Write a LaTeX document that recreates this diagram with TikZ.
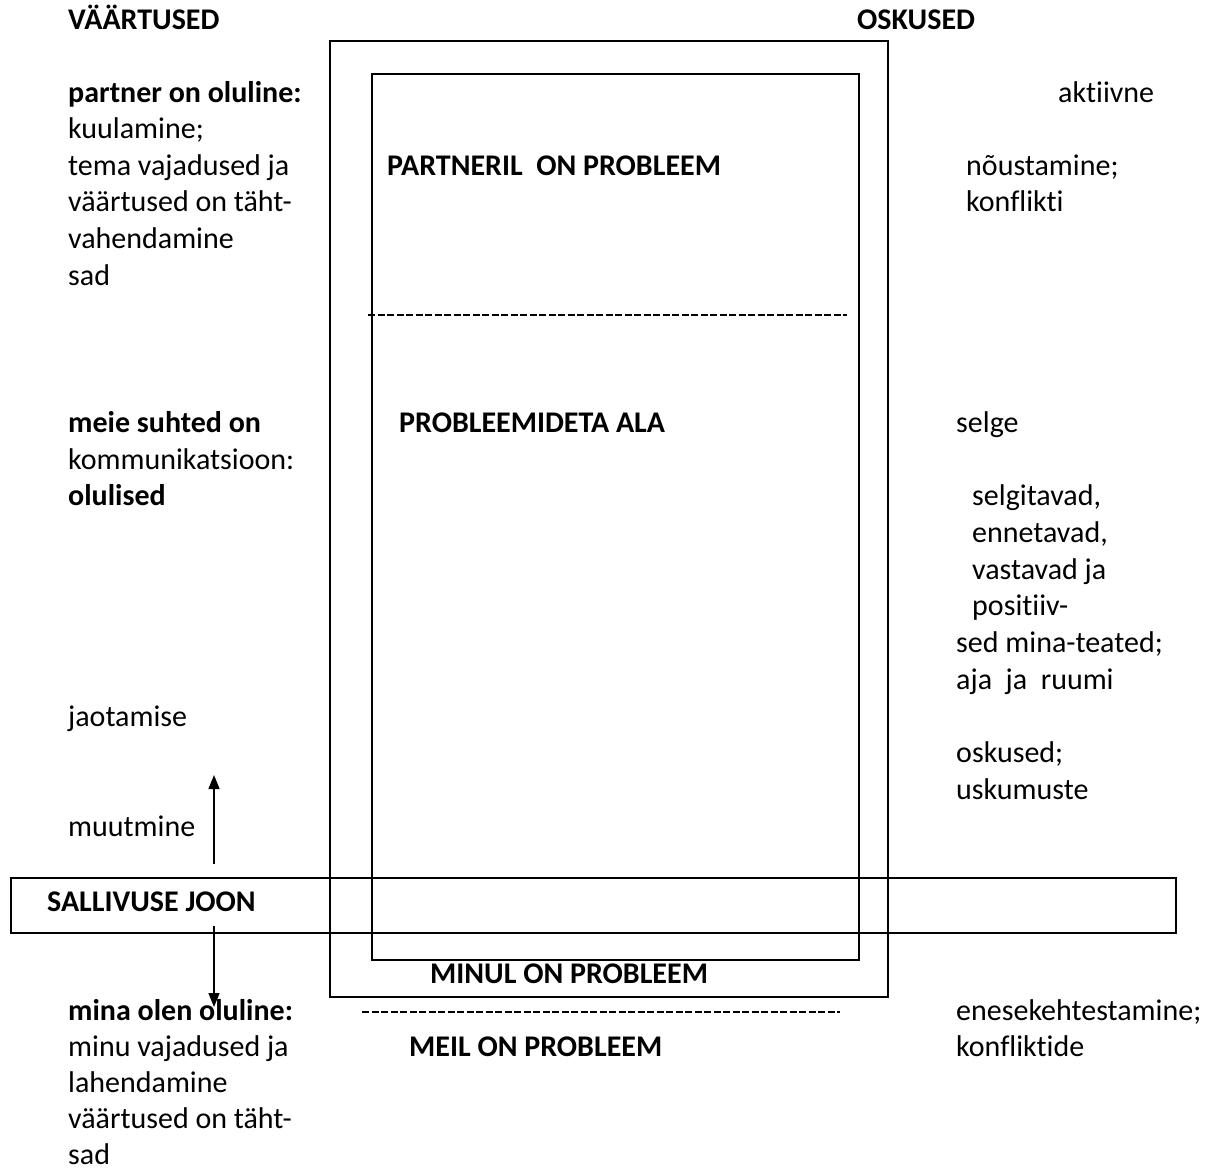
\documentclass[tikz,border=0pt]{standalone}
\usepackage{fontspec}
\setmainfont{Carlito}[Ligatures=NoCommon]
\usetikzlibrary{arrows.meta}
\begin{document}
\begin{tikzpicture}[x=1pt,y=-1pt,
  txt/.style={anchor=base west,inner sep=0pt,font=\fontsize{30}{36}\selectfont},
  btxt/.style={txt,font=\fontsize{30}{36}\selectfont\bfseries},
  frame/.style={draw,line width=1.3pt},
  dashline/.style={line width=1.3pt,dash pattern=on 7pt off 2.5pt},
  arr/.style={line width=1.3pt,-{Triangle[length=14pt,width=11pt]}}]
\useasboundingbox (0,0) rectangle (1209,1170);
% frames
\draw[frame] (330,41) rectangle (888,997);
\draw[frame] (372,74) rectangle (859,960);
\draw[frame] (11,878) rectangle (1176,933);
\coordinate (d1a) at (368,315); \coordinate (d1b) at (847,315);
\coordinate (d2a) at (362,1012); \coordinate (d2b) at (840,1012);
\draw[dashline] (d1a) -- (d1b);
\draw[dashline] (d2a) -- (d2b);
% arrows
\coordinate (upS) at (214,864); \coordinate (upE) at (214,775);
\coordinate (dnS) at (214,926); \coordinate (dnE) at (214,1007);
\draw[arr] (upS) -- (upE);
\draw[arr] (dnS) -- (dnE);
% left column
\node[btxt] (l0) at (68,29) {VÄÄRTUSED};
\node[btxt] (l1) at (68,102) {partner on oluline:};
\node[txt] (l2) at (68,138) {kuulamine;};
\node[txt] (l3) at (68,175) {tema vajadused ja};
\node[txt] (l4) at (68,211) {väärtused on täht-};
\node[txt] (l5) at (68,248) {vahendamine};
\node[txt] (l6) at (68,285) {sad};
\node[btxt] (l7) at (68,432) {meie suhted on};
\node[txt] (l8) at (68,469) {kommunikatsioon:};
\node[btxt] (l9) at (68,505) {olulised};
\node[txt] (l10) at (68,726) {jaotamise};
\node[txt] (l11) at (68,836) {muutmine};
\node[btxt] (sj) at (47,911) {SALLIVUSE JOON};
\node[btxt] (l12) at (68,1020) {mina olen oluline:};
\node[txt] (l13) at (68,1056) {minu vajadused ja};
\node[txt] (l14) at (68,1092) {lahendamine};
\node[txt] (l15) at (68,1128) {väärtused on täht-};
\node[txt] (l16) at (68,1164) {sad};
% centre
\node[btxt] (c0) at (857,29) {OSKUSED};
\node[btxt] (c1) at (387,175) {PARTNERIL\ \ ON PROBLEEM};
\node[btxt] (c2) at (399,432) {PROBLEEMIDETA ALA};
\node[btxt] (c3) at (430,983) {MINUL ON PROBLEEM};
\node[btxt] (c4) at (409,1056) {MEIL ON PROBLEEM};
% right column
\node[txt] (r1) at (1058,102) {aktiivne};
\node[txt] (r2) at (966,175) {nõustamine;};
\node[txt] (r3) at (966,211) {konflikti};
\node[txt] (r4) at (956,432) {selge};
\node[txt] (r5) at (972,505) {selgitavad,};
\node[txt] (r6) at (972,542) {ennetavad,};
\node[txt] (r7) at (972,579) {vastavad ja};
\node[txt] (r8) at (972,615) {positiiv-};
\node[txt] (r9) at (956,652) {sed mina-teated;};
\node[txt] (r10) at (956,689) {aja\ \ ja\ \ ruumi};
\node[txt] (r11) at (956,762) {oskused;};
\node[txt] (r12) at (956,799) {uskumuste};
\node[txt] (r13) at (956,1020) {enesekehtestamine;};
\node[txt] (r14) at (956,1056) {konfliktide};
\end{tikzpicture}
\end{document}
